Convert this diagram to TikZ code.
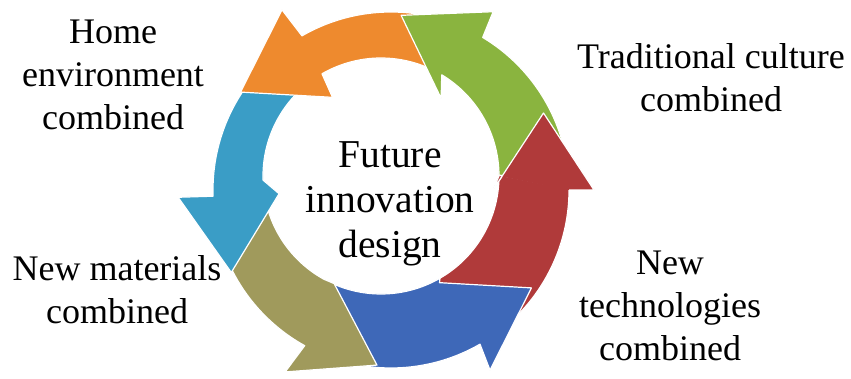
\documentclass[tikz,border=0pt]{standalone}
\usepackage{fontspec}
\setmainfont{Liberation Serif}
\usepackage{tikz}
\usetikzlibrary{calc,positioning}

\definecolor{arrred}{HTML}{B03A3A}
\definecolor{arrblue}{HTML}{3E68B8}
\definecolor{arrolive}{HTML}{A09A5C}
\definecolor{arrteal}{HTML}{3A9DC6}
\definecolor{arrorange}{HTML}{EE8A2E}
\definecolor{arrgreen}{HTML}{8AB43F}

\tikzset{
  ringpart/.style={draw=white, line width=1.2pt, line join=round},
  sidetext/.style={align=center, inner sep=0pt, font=\fontsize{36}{43}\selectfont},
  hubtext/.style={align=center, inner sep=0pt, font=\fontsize{39.5}{45}\selectfont}
}

% #1 colour, #2 tail angle, #3 head angle
\newcommand{\ringarrow}[3]{%
  \path (ch) ++(#3:107) coordinate (ib) (ch) ++(#3:208) coordinate (ob);
  \path ($(ib)!.5!(ob)$) ++({#3+90}:77) coordinate (tp);
  \filldraw[ringpart, fill=#1] ($(co)+(#2:178)$) arc[start angle=#2, end angle=#3, radius=178] -- (ob) -- (tp) -- (ib) -- ($(ci)+(#3:118)$) arc[start angle=#3, end angle=#2, radius=118] -- cycle;
}
\newcommand{\ringhead}[2]{%
  \path (ch) ++(#2:107) coordinate (ib) (ch) ++(#2:208) coordinate (ob);
  \path ($(ib)!.5!(ob)$) ++({#2+90}:77) coordinate (tp);
  \fill[#1] ($(co)+(#2:178)$) -- (ob) -- (tp) -- (ib) -- ($(ci)+(#2:118)$) -- cycle;
  \draw[ringpart] ($(co)+(#2:178)$) -- (ob) -- (tp) -- (ib) -- ($(ci)+(#2:118)$);
}

\begin{document}
\begin{tikzpicture}[x=1pt, y=1pt]

\useasboundingbox[fill=white] (0,0) rectangle (851,378);

\coordinate (ci) at (381,202);
\coordinate (co) at (391,188);
\coordinate (ch) at (386,188);

\ringarrow{arrred}{298}{360}
\ringarrow{arrblue}{238}{300}
\ringarrow{arrolive}{180}{241}
\ringarrow{arrteal}{118}{182}
\ringarrow{arrorange}{57}{120}
\ringarrow{arrgreen}{0.5}{59}
\ringhead{arrred}{0}

\node[hubtext] (hub) at (390,174) {Future\\innovation\\design};

\node[sidetext] (home) at (113,303) {Home\\environment\\combined};
\node[sidetext] (culture) at (711,300.5) {Traditional culture\\combined};
\node[sidetext] (materials) at (117,88) {New materials\\combined};
\node[sidetext] (techno) at (670,72.5) {New\\technologies\\combined};

\end{tikzpicture}
\end{document}
